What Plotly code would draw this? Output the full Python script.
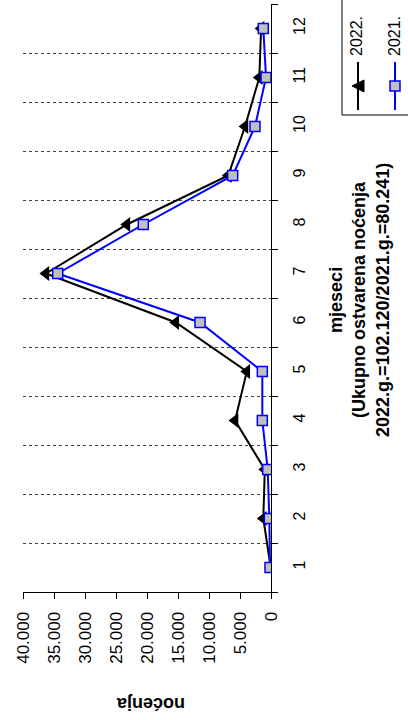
import plotly.graph_objects as go

months = list(range(1, 13))
month_labels = [str(m) for m in months]
nocenja_2022 = [50, 1240, 1000, 5800, 3900, 15350, 36300, 23250, 6900, 4190, 1880, 1600]
nocenja_2021 = [160, 270, 530, 1400, 1400, 11450, 34400, 20600, 6180, 2580, 800, 1242]
value_ticks = list(range(0, 40001, 5000))
legend_names = ["2022.", "2021."]

W, H = 408, 720
L, R, T, B = 23, 137, 4, 128
PW, PH = W - L - R, H - T - B


def px(x):
    return (x - L) / PW


def py(y):
    return (H - B - y) / PH


FONT = "Liberation Sans, Arial, sans-serif"

fig = go.Figure()
fig.add_trace(go.Scatter(
    x=nocenja_2022, y=months, mode="lines+markers", name=legend_names[0],
    line=dict(color="black", width=2),
    marker=dict(symbol="triangle-left", size=13, color="black"),
    showlegend=False))
fig.add_trace(go.Scatter(
    x=nocenja_2021, y=months, mode="lines+markers", name=legend_names[1],
    line=dict(color="#0000ff", width=2),
    marker=dict(symbol="square", size=10, color="#c0c0c0",
                line=dict(color="#0000ff", width=1.5)),
    showlegend=False))

fig.update_layout(
    width=W, height=H,
    margin=dict(l=L, r=R, t=T, b=B, pad=0),
    paper_bgcolor="white", plot_bgcolor="white",
    separators=",.",
    font=dict(family=FONT, color="black", size=16),
    xaxis=dict(
        range=[40000, 0], tickvals=value_ticks, tickformat=",d",
        tickangle=-90, showgrid=False, zeroline=False,
        showline=True, linecolor="black", linewidth=1,
        ticks="outside", ticklen=6, tickcolor="black",
        tickfont=dict(size=17, family=FONT), ticklabelstandoff=6),
    yaxis=dict(
        range=[0.5, 12.5], side="right", tickvals=months, ticktext=month_labels,
        tickangle=-90, showgrid=False, zeroline=False,
        showline=True, linecolor="black", linewidth=1, ticks="",
        tickfont=dict(size=16, family=FONT), ticklabelstandoff=14,
        minor=dict(tick0=0.5, dtick=1, ticks="outside", ticklen=6,
                   tickcolor="black", showgrid=True, gridcolor="#404040",
                   griddash="dot", gridwidth=1)),
)

ann = []
ann.append(dict(
    text="<b>mjeseci<br>(Ukupno ostvarena noćenja<br>2022.g.=102.120/2021.g.=80.241)</b>",
    xref="paper", yref="paper", x=px(359), y=py(300), xanchor="center", yanchor="middle",
    textangle=-90, showarrow=False, font=dict(size=18, family=FONT)))
ann.append(dict(
    text="<b>noćenja</b>", xref="paper", yref="paper", x=px(151), y=py(704),
    xanchor="center", yanchor="middle", textangle=180, showarrow=False,
    font=dict(size=18, family=FONT)))
for name, xc in zip(legend_names, [357, 395]):
    ann.append(dict(
        text=name, xref="paper", yref="paper", x=px(xc), y=py(36),
        xanchor="center", yanchor="middle", textangle=-90, showarrow=False,
        font=dict(size=16, family=FONT)))

shapes = []
# legend box
shapes.append(dict(type="rect", xref="paper", yref="paper",
                   x0=px(342), x1=px(420), y0=py(115), y1=py(-10),
                   line=dict(color="black", width=1), fillcolor="white", layer="below"))
# legend samples
shapes.append(dict(type="line", xref="paper", yref="paper",
                   x0=px(358), x1=px(358), y0=py(62), y1=py(110),
                   line=dict(color="black", width=2)))
shapes.append(dict(type="path", xref="paper", yref="paper",
                   path=f"M {px(352)} {py(86)} L {px(364)} {py(80)} L {px(364)} {py(92)} Z",
                   fillcolor="black", line=dict(color="black", width=1)))
shapes.append(dict(type="line", xref="paper", yref="paper",
                   x0=px(395), x1=px(395), y0=py(62), y1=py(110),
                   line=dict(color="#0000ff", width=2)))
shapes.append(dict(type="rect", xref="paper", yref="paper",
                   x0=px(390), x1=px(400), y0=py(91), y1=py(81),
                   fillcolor="#c0c0c0", line=dict(color="#0000ff", width=1.5)))

fig.update_layout(annotations=ann, shapes=shapes)
fig.write_html("out.html", config={"displayModeBar": False},
               post_script="document.body.style.margin='0';document.body.style.padding='0';")
